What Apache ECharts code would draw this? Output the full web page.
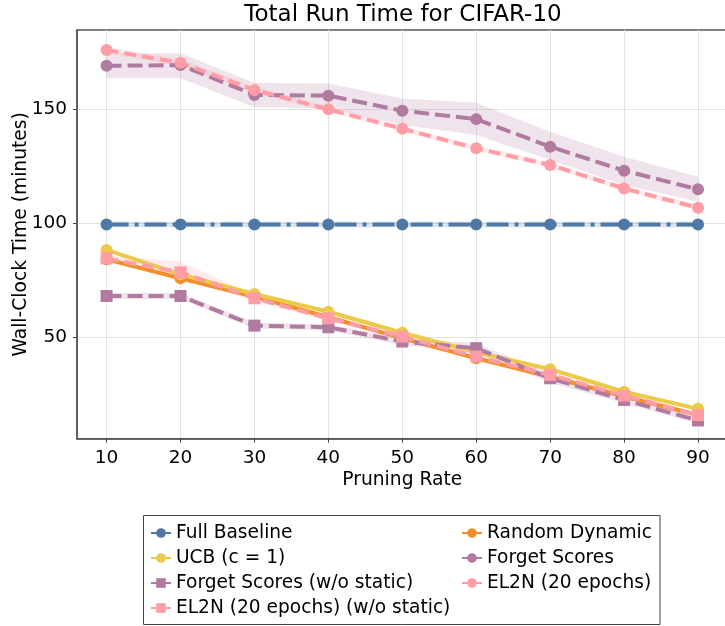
<!DOCTYPE html>
<html>
<head>
<meta charset="utf-8">
<script src="https://cdn.jsdelivr.net/npm/echarts@6/dist/echarts.min.js"></script>
<style>
html,body{margin:0;padding:0;background:#fff;}
#chart{width:725px;height:626px;}
</style>
</head>
<body>
<div id="chart"></div>
<script>
// ---- data ----
const rates = [10, 20, 30, 40, 50, 60, 70, 80, 90];
const xTicks = [10, 20, 30, 40, 50, 60, 70, 80, 90];
const yTicks = [50, 100, 150];

const fullBaseline = [99.5, 99.5, 99.5, 99.5, 99.5, 99.5, 99.5, 99.5, 99.5];
const fullBaselineLow = [98.3, 98.3, 98.3, 98.3, 98.3, 98.3, 98.3, 98.3, 98.3];
const fullBaselineHigh = [100.7, 100.7, 100.7, 100.7, 100.7, 100.7, 100.7, 100.7, 100.7];

const randomDynamic = [84.2, 75.9, 67.8, 58.8, 49.6, 40.8, 32.7, 24.0, 15.9];
const ucb = [88.3, 77.6, 69.0, 61.2, 52.0, 43.5, 36.0, 26.1, 18.6];

const forgetScores = [169.1, 169.4, 156.3, 156.0, 149.4, 145.7, 133.6, 123.1, 114.9];
const forgetScoresLow = [163.6, 163.6, 150.9, 150.5, 143.1, 138.7, 127.8, 116.8, 109.5];
const forgetScoresHigh = [174.6, 174.6, 161.7, 161.3, 154.8, 152.9, 140.2, 129.2, 120.4];

const forgetWo = [68.1, 68.1, 55.1, 54.4, 48.1, 45.2, 32.0, 22.5, 13.5];
const forgetWoLow = [66.8, 66.8, 53.8, 53.1, 46.5, 43.0, 30.0, 21.0, 12.2];
const forgetWoHigh = [69.4, 69.4, 56.4, 55.7, 49.7, 47.4, 34.0, 24.0, 14.8];

const el2n = [176.0, 170.4, 158.5, 150.0, 141.5, 132.9, 125.6, 115.3, 106.8];
const el2nLow = [174.5, 168.9, 157.0, 148.8, 140.3, 131.7, 124.4, 114.1, 105.6];
const el2nHigh = [177.5, 171.9, 160.0, 151.2, 142.7, 134.1, 126.8, 116.5, 108.0];

const el2nWo = [84.6, 78.5, 67.1, 58.3, 50.3, 41.5, 33.5, 24.4, 15.9];
const el2nWoLow = [83.2, 76.3, 65.8, 57.1, 49.1, 40.3, 32.3, 23.2, 14.7];
const el2nWoHigh = [86.0, 83.2, 68.4, 59.5, 51.5, 42.7, 34.7, 25.6, 17.1];

const names = {
  full: 'Full Baseline',
  random: 'Random Dynamic',
  ucb: 'UCB (c = 1)',
  forget: 'Forget Scores',
  forgetWo: 'Forget Scores (w/o static)',
  el2n: 'EL2N (20 epochs)',
  el2nWo: 'EL2N (20 epochs) (w/o static)'
};

const colors = {
  blue: '#4e79a7', orange: '#f28e2b', yellow: '#edc948',
  purple: '#b07aa1', pink: '#ff9da7'
};

const FONT = 'DejaVu Sans';

function pairs(ys) { return rates.map((x, i) => [x, ys[i]]); }

function band(low, high, fill) {
  return {
    type: 'custom',
    silent: true,
    z: 1,
    data: rates.map((x, i) => [x, low[i], high[i]]),
    encode: { x: 0, y: [1, 2] },
    renderItem: function (params, api) {
      if (params.dataIndex !== 0) return null;
      const pts = [];
      for (let i = 0; i < rates.length; i++) pts.push(api.coord([rates[i], high[i]]));
      for (let i = rates.length - 1; i >= 0; i--) pts.push(api.coord([rates[i], low[i]]));
      return { type: 'polygon', shape: { points: pts }, style: { fill: fill } };
    }
  };
}

function line(name, ys, color, dash, symbol, size) {
  return {
    name: name,
    type: 'line',
    z: 3,
    data: pairs(ys),
    symbol: symbol,
    symbolSize: size,
    showAllSymbol: true,
    lineStyle: { color: color, width: 4, type: dash },
    itemStyle: { color: color },
    emphasis: { disabled: true },
    animation: false
  };
}

function legendItem(name, left, top) {
  return {
    data: [name],
    left: left,
    top: top,
    orient: 'vertical',
    padding: 0,
    itemWidth: 20,
    itemHeight: 12,
    selectedMode: false,
    lineStyle: { type: 'solid' },
    textStyle: { fontSize: 18.6, fontFamily: FONT, color: '#000', lineHeight: 20 }
  };
}

const chart = echarts.init(document.getElementById('chart'), null, { renderer: 'canvas' });

const axisLabelStyle = { fontSize: 18.5, fontFamily: FONT, color: '#000' };

chart.setOption({
  animation: false,
  backgroundColor: '#fff',
  title: {
    text: 'Total Run Time for CIFAR-10',
    left: 403,
    top: 4,
    padding: 0,
    textAlign: 'center',
    textStyle: { fontSize: 23, fontWeight: 'normal', fontFamily: FONT, color: '#000' }
  },
  grid: {
    left: 77, top: 30, width: 650.6, height: 408.7,
    outerBoundsMode: 'none',
    containLabel: false,
    show: true, borderColor: '#555', borderWidth: 1.5, backgroundColor: 'transparent'
  },
  xAxis: {
    type: 'value',
    min: 6, max: 94,
    name: 'Pruning Rate',
    nameLocation: 'middle',
    nameGap: 32,
    nameMoveOverlap: false,
    nameTextStyle: { fontSize: 18.7, fontFamily: FONT, color: '#000' },
    axisLine: { show: true, lineStyle: { color: '#555', width: 1.5 } },
    axisTick: { show: true, length: 4, lineStyle: { color: '#444' }, customValues: xTicks },
    axisLabel: Object.assign({ margin: 10, customValues: xTicks }, axisLabelStyle),
    splitLine: { show: true, lineStyle: { color: '#e3e3e3', width: 1 } }
  },
  yAxis: {
    type: 'value',
    min: 5.5, max: 184.8,
    name: 'Wall-Clock Time (minutes)',
    nameLocation: 'middle',
    nameGap: 46,
    nameMoveOverlap: false,
    nameRotate: 90,
    nameTextStyle: { fontSize: 18.7, fontFamily: FONT, color: '#000' },
    axisLine: { show: true, lineStyle: { color: '#555', width: 1.5 } },
    axisTick: { show: true, length: 4, lineStyle: { color: '#444' }, customValues: yTicks },
    axisLabel: Object.assign({ margin: 10, customValues: yTicks }, axisLabelStyle),
    splitLine: { show: true, lineStyle: { color: '#e3e3e3', width: 1 } }
  },
  legend: [
    legendItem(names.full, 150, 523),
    legendItem(names.ucb, 150, 548),
    legendItem(names.forgetWo, 150, 573),
    legendItem(names.el2nWo, 150, 598),
    legendItem(names.random, 461, 523),
    legendItem(names.forget, 461, 548),
    legendItem(names.el2n, 461, 573)
  ],
  graphic: [{
    type: 'rect',
    shape: { x: 143.5, y: 515.5, width: 516.5, height: 109 },
    style: { fill: 'none', stroke: '#444', lineWidth: 1 },
    silent: true
  }],
  series: [
    band(fullBaselineLow, fullBaselineHigh, 'rgba(78,121,167,0.2)'),
    band(forgetScoresLow, forgetScoresHigh, 'rgba(176,122,161,0.2)'),
    band(forgetWoLow, forgetWoHigh, 'rgba(176,122,161,0.2)'),
    band(el2nLow, el2nHigh, 'rgba(255,157,167,0.2)'),
    band(el2nWoLow, el2nWoHigh, 'rgba(255,157,167,0.2)'),
    line(names.full, fullBaseline, colors.blue, [22, 6, 4, 6], 'circle', 12),
    line(names.random, randomDynamic, colors.orange, 'solid', 'circle', 12),
    line(names.ucb, ucb, colors.yellow, 'solid', 'circle', 12),
    line(names.forget, forgetScores, colors.purple, [15, 6], 'circle', 12),
    line(names.forgetWo, forgetWo, colors.purple, [15, 6], 'rect', 12),
    line(names.el2n, el2n, colors.pink, [12, 6], 'circle', 12),
    line(names.el2nWo, el2nWo, colors.pink, [12, 6], 'rect', 12)
  ]
});
</script>
</body>
</html>
